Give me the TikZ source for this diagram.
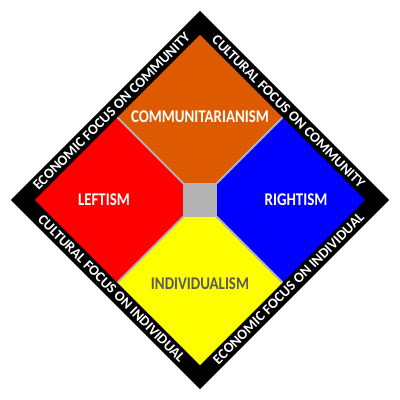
\documentclass[tikz,border=0pt]{standalone}
\usepackage{fontspec}
\usepackage{graphicx}
\setmainfont{Carlito}
\definecolor{commorange}{RGB}{221,90,0}
\definecolor{leftred}{RGB}{255,0,0}
\definecolor{rightblue}{RGB}{0,0,255}
\definecolor{indyellow}{RGB}{255,255,0}
\definecolor{seamgray}{RGB}{179,179,179}
\definecolor{inktext}{RGB}{90,90,90}
\newcommand{\tallcaps}[1]{\scalebox{1}[1.2]{#1}}
\tikzset{
  seam/.style={draw=seamgray,line width=1.5pt},
  ismlabel/.style={
    font=\bfseries\fontsize{10.6}{12}\selectfont,
    text=white,
    inner sep=0pt
  },
  bandlabel/.style={
    font=\bfseries\fontsize{10.2}{11}\selectfont,
    text=white,
    inner sep=0pt
  }
}
\begin{document}
\begin{tikzpicture}[x=0.025cm,y=0.025cm]
\useasboundingbox (-200,-200) rectangle (200,200);
% outer black frame
\fill[black] (0,189)--(189,0)--(0,-189)--(-189,0)--cycle;
% the four quadrants
\fill[commorange] (0,165)--(82.5,82.5)--(16.7,16.7)--(-16.7,16.7)--(-82.5,82.5)--cycle;
\fill[rightblue] (165,0)--(82.5,82.5)--(16.7,16.7)--(16.7,-16.7)--(82.5,-82.5)--cycle;
\fill[indyellow] (0,-165)--(82.5,-82.5)--(16.7,-16.7)--(-16.7,-16.7)--(-82.5,-82.5)--cycle;
\fill[leftred] (-165,0)--(-82.5,82.5)--(-16.7,16.7)--(-16.7,-16.7)--(-82.5,-82.5)--cycle;
% centre square and seams
\fill[seamgray] (-16.7,-16.7) rectangle (16.7,16.7);
\coordinate (ne) at (16.7,16.7);
\coordinate (nw) at (-16.7,16.7);
\coordinate (se) at (16.7,-16.7);
\coordinate (sw) at (-16.7,-16.7);
\coordinate (ne edge) at (82.5,82.5);
\coordinate (nw edge) at (-82.5,82.5);
\coordinate (se edge) at (82.5,-82.5);
\coordinate (sw edge) at (-82.5,-82.5);
\draw[seam] (ne)--(ne edge);
\draw[seam] (nw)--(nw edge);
\draw[seam] (se)--(se edge);
\draw[seam] (sw)--(sw edge);
% quadrant names
\node[ismlabel] (comm) at (0,83) {\tallcaps{COMMUNITARIANISM}};
\node[ismlabel] (left) at (-96,0) {\tallcaps{LEFTISM}};
\node[ismlabel] (right) at (96,0) {\tallcaps{RIGHTISM}};
\node[ismlabel,text=inktext] (indiv) at (0,-84) {\tallcaps{INDIVIDUALISM}};
% axis captions in the frame
\node[bandlabel,rotate=45] (econcomm) at (-88.5,88.5) {ECONOMIC FOCUS ON COMMUNITY};
\node[bandlabel,rotate=-45] (cultcomm) at (88.5,88.5) {CULTURAL FOCUS ON COMMUNITY};
\node[bandlabel,rotate=-45] (cultind) at (-88.5,-88.5) {CULTURAL FOCUS ON INDIVIDUAL};
\node[bandlabel,rotate=45] (econind) at (88.5,-88.5) {ECONOMIC FOCUS ON INDIVIDUAL};
\end{tikzpicture}
\end{document}
